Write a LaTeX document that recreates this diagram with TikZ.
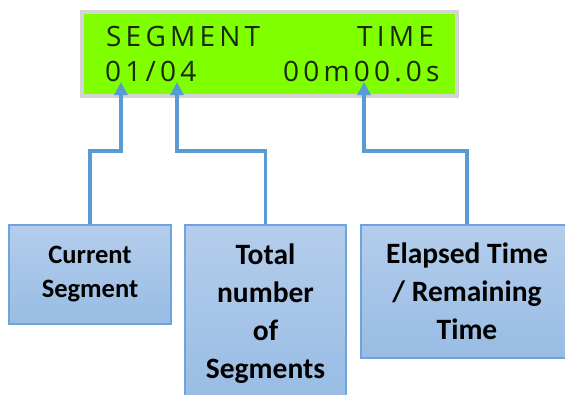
\documentclass[tikz,border=0pt]{standalone}
\usepackage{fontspec}
\setmainfont{Carlito}
\newfontfamily\lcdfont[LetterSpace=15]{Open Sans}
\usetikzlibrary{arrows.meta,positioning}
\definecolor{LcdGreen}{RGB}{128,255,0}
\definecolor{LcdFrame}{RGB}{212,212,212}
\definecolor{LcdInk}{RGB}{25,40,15}
\definecolor{WireBlue}{RGB}{91,155,213}
\definecolor{BoxTop}{RGB}{180,205,235}
\definecolor{BoxBot}{RGB}{152,188,228}
\definecolor{BoxEdge}{RGB}{110,163,219}

\begin{document}
\begin{tikzpicture}[
        x=1pt, y=-1pt,
        lcd/.style={draw=LcdFrame, line width=4pt, fill=LcdGreen,
                    minimum width=375pt, minimum height=84pt, inner sep=0pt},
        lcdtxt/.style={anchor=base west, inner sep=0pt, text=LcdInk,
                       font=\lcdfont\fontsize{28}{28}\selectfont},
        info/.style={draw=BoxEdge, line width=1.2pt, top color=BoxTop,
                     bottom color=BoxBot, align=center, inner sep=0pt},
        infosm/.style={info, font=\bfseries\fontsize{26.5}{34}\selectfont},
        infolg/.style={info, font=\bfseries\fontsize{29.5}{38}\selectfont},
        wire/.style={WireBlue, line width=3.5pt,
                     -{Triangle[width=13pt,length=13pt]}}
      ]
        \useasboundingbox (0,0) rectangle (565,394);
        % display
        \node[lcd] (lcd) at (269.5,54) {};
        \node[lcdtxt] (seglbl)  at (106,46) {SEGMENT};
        \node[lcdtxt] (timelbl) at (357,46) {TIME};
        \node[lcdtxt] (segval)  at (105,81) {01/04};
        \node[lcdtxt] (timeval) at (283,81) {00m00.0s};
        % arrow tips and the level of the elbows
        \coordinate (tipcur)  at (121,82);
        \coordinate (tiptot)  at (177,82);
        \coordinate (tiptime) at (364,82);
        \coordinate (elbow)   at (0,151);
        % captions
        \node[infosm, minimum width=162pt, minimum height=99pt]
              (cur) at (90,274.5) {Current\\Segment};
        \node[infolg, minimum width=161pt, minimum height=178pt]
              (tot) at (265.5,314) {Total\\number\\of\\Segments};
        \node[infolg, minimum width=212pt, minimum height=133pt]
              (elap) at (467,291.5) {Elapsed Time\\/ Remaining\\Time};
        % connectors
        \draw[wire] (cur.north)  -- (cur.north |- elbow)  -| (tipcur);
        \draw[wire] (tot.north)  -- (tot.north |- elbow)  -| (tiptot);
        \draw[wire] (elap.north) -- (elap.north |- elbow) -| (tiptime);
\end{tikzpicture}
\end{document}
